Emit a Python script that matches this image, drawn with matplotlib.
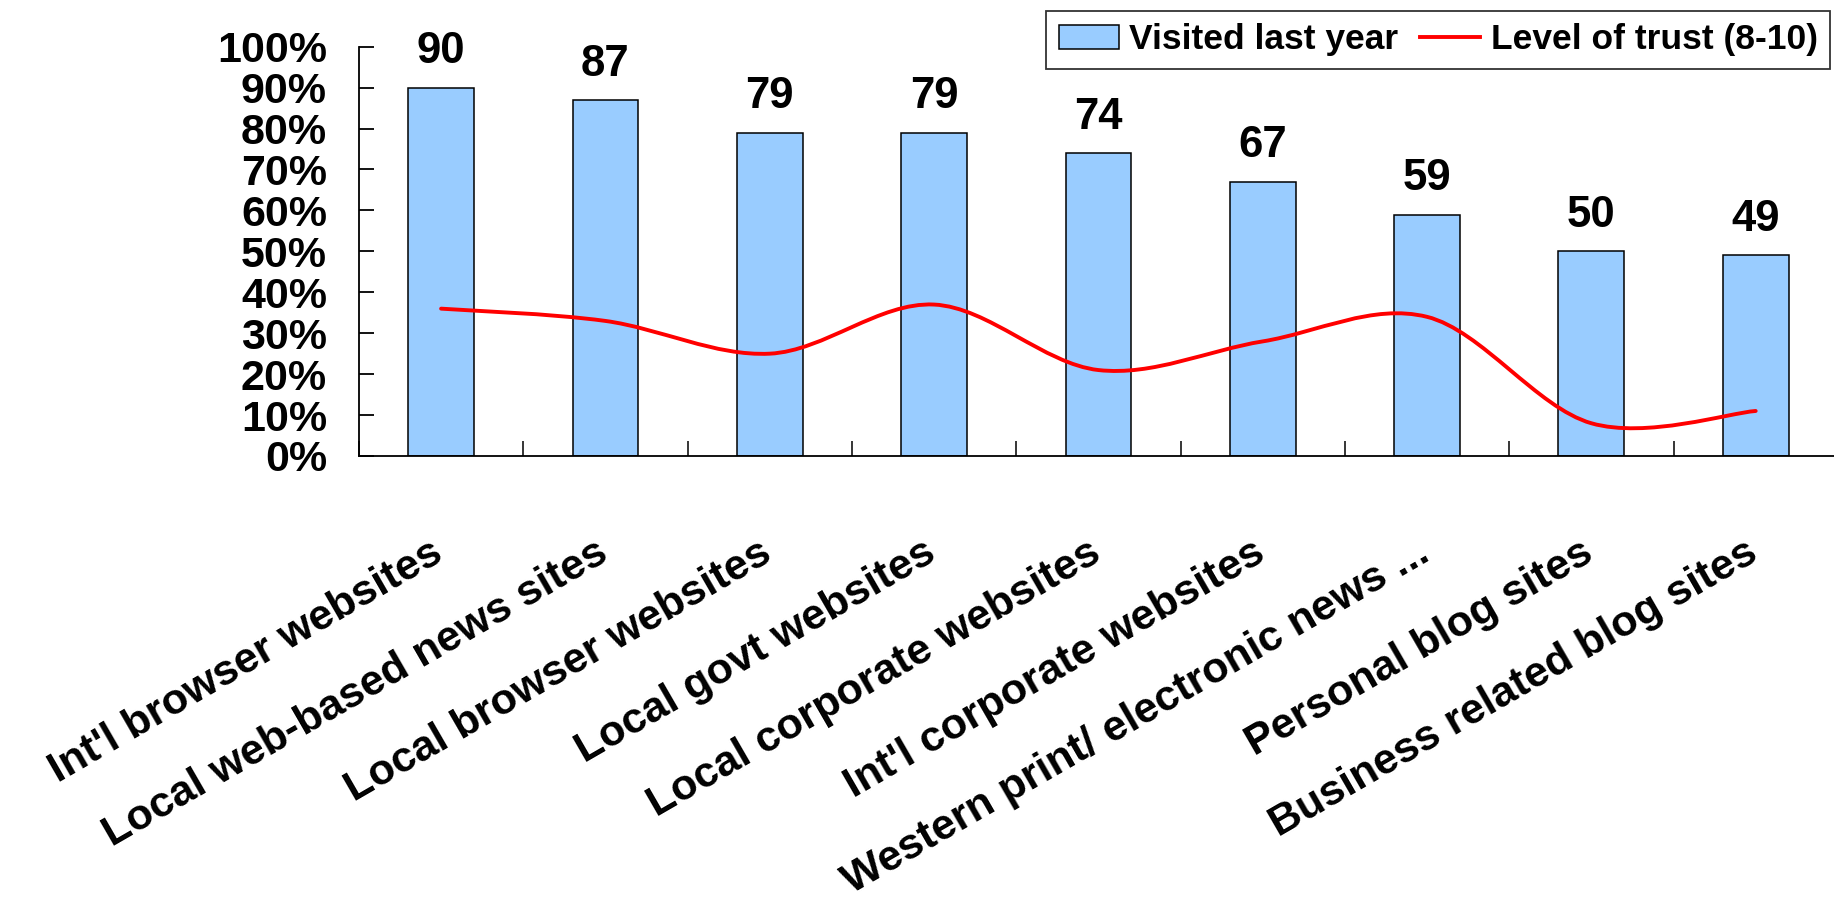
import numpy as np
import matplotlib
matplotlib.use('Agg')
import matplotlib.pyplot as plt
from matplotlib.path import Path
from matplotlib.patches import PathPatch, Patch
from matplotlib.lines import Line2D
from matplotlib.transforms import ScaledTranslation

# Site types surveyed
categories = ["Int'l browser websites", "Local web-based news sites", "Local browser websites",
              "Local govt websites", "Local corporate websites", "Int'l corporate websites",
              "Western print/ electronic news ...", "Personal blog sites", "Business related blog sites"]

# % who visited each type last year
visited = [90, 87, 79, 79, 74, 67, 59, 50, 49]

# % rating their trust 8-10
trust = [36, 33, 25, 37, 21, 28, 34, 8, 11]

y_ticks = list(range(0, 101, 10))

plt.rcParams['font.family'] = ['Liberation Sans', 'DejaVu Sans']
plt.rcParams['font.weight'] = 'bold'

BAR_COLOR = '#99CCFF'
LINE_COLOR = '#FF0000'


def smooth_path(xs, ys):
    # smoothed line made of cubic Bezier segments passing through every point
    pts = np.column_stack([xs, ys]).astype(float)
    n = len(pts)
    verts = [pts[0]]
    codes = [Path.MOVETO]
    for i in range(n - 1):
        p0 = pts[max(i - 1, 0)]
        p1 = pts[i]
        p2 = pts[i + 1]
        p3 = pts[min(i + 2, n - 1)]
        verts += [p1 + (p2 - p0) / 6, p2 - (p3 - p1) / 6, p2]
        codes += [Path.CURVE4] * 3
    return Path(verts, codes)


fig = plt.figure(figsize=(18.34, 9.14), dpi=100)
ax = fig.add_axes([0.1957, 0.5011, 0.8064, 0.4478])

x = np.arange(len(categories))
bars = ax.bar(x, visited, width=0.4, color=BAR_COLOR, edgecolor='black', linewidth=1.1, zorder=2)

for xi, v in zip(x, visited):
    ax.annotate(str(v), (xi, v), xytext=(0, 11), textcoords='offset points',
                ha='center', va='bottom', fontsize=31.5, fontweight='bold')

curve = PathPatch(smooth_path(x, trust), facecolor='none', edgecolor=LINE_COLOR,
                  linewidth=2.8, capstyle='round', zorder=3)
ax.add_patch(curve)

ax.set_xlim(-0.5, len(categories) - 0.5)
ax.set_ylim(0, 100)

for side in ['top', 'right']:
    ax.spines[side].set_visible(False)
for side in ['left', 'bottom']:
    ax.spines[side].set_linewidth(1.3)

ax.set_yticks(y_ticks)
ax.set_yticklabels([f'{t}%' for t in y_ticks], fontsize=31, fontweight='bold')
ax.tick_params(axis='y', direction='in', length=11, width=1.3, pad=23)

ax.set_xticks(x)
ax.set_xticklabels(categories, fontsize=31, fontweight='bold', rotation=30,
                   ha='right', rotation_mode='anchor')
ax.set_xticks(np.arange(-0.5, len(categories), 1), minor=True)
ax.tick_params(axis='x', which='major', length=0, pad=55)
ax.tick_params(axis='x', which='minor', direction='in', length=11, width=1.1)

# nudge the slanted labels so their ends sit just left of each category
shift = ScaledTranslation(-8 / 72, 0, fig.dpi_scale_trans)
for lbl in ax.get_xticklabels():
    lbl.set_transform(lbl.get_transform() + shift)

handles = [Patch(facecolor=BAR_COLOR, edgecolor='black', linewidth=1.1),
           Line2D([0], [0], color=LINE_COLOR, linewidth=2.8)]
leg = fig.legend(handles, ['Visited last year', 'Level of trust (8-10)'], ncol=2,
                 loc='upper right', bbox_to_anchor=(1830 / 1834, 1 - 11 / 914),
                 borderaxespad=0, fontsize=25.5, frameon=True, fancybox=False,
                 handlelength=1.7, handleheight=0.7, handletextpad=0.3,
                 columnspacing=0.6, borderpad=0.35)
leg.get_frame().set_edgecolor('black')
leg.get_frame().set_linewidth(1.3)
for t in leg.get_texts():
    t.set_fontweight('bold')

fig.savefig('out.png', dpi=100)
